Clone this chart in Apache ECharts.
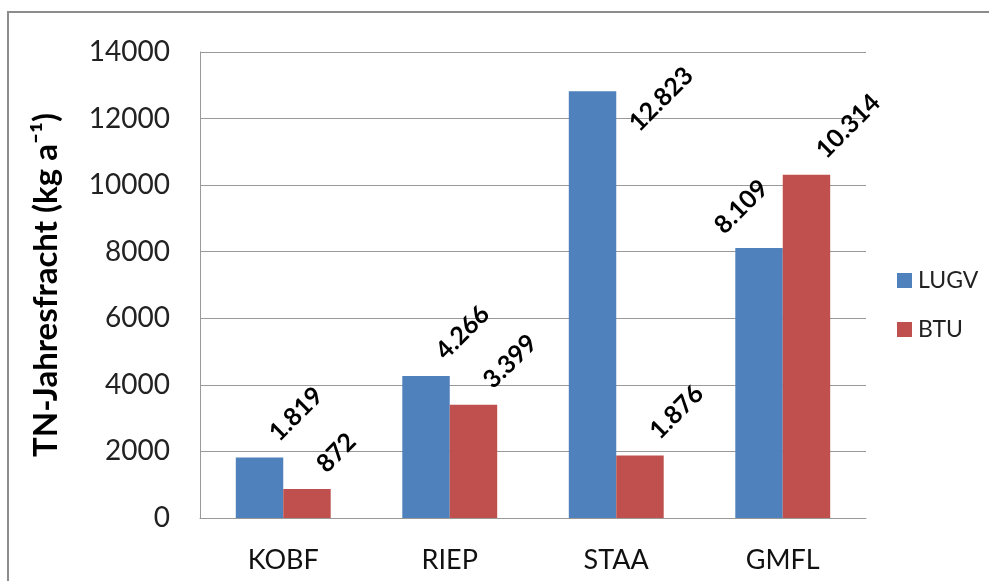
<!DOCTYPE html>
<html>
<head>
<meta charset="utf-8">
<script src="https://cdn.jsdelivr.net/npm/echarts@6/dist/echarts.min.js"></script>
<style>
  html, body { margin: 0; padding: 0; background: #fff; }
  #chart { width: 989px; height: 581px; }
</style>
</head>
<body>
<div id="chart"></div>
<script>
const categories = ["KOBF", "RIEP", "STAA", "GMFL"];
const lugv = [1819, 4266, 12823, 8109];
const btu = [872, 3399, 1876, 10314];

// deutsches Tausendertrennzeichen
function fmt(v) {
  return String(v).replace(/\B(?=(\d{3})+(?!\d))/g, ".");
}

const chart = echarts.init(document.getElementById("chart"));
const font = "Lato, 'Open Sans', sans-serif";

const barLabel = {
  show: true,
  position: "top",
  rotate: 45,
  align: "left",
  verticalAlign: "middle",
  distance: 8,
  offset: [19, 1],
  fontFamily: font,
  fontWeight: "bold",
  fontSize: 25,
  color: "#000",
  formatter: (p) => fmt(p.value),
};

// Excel schiebt einige Beschriftungen in die Zeichenfläche zurück
// (offset im gedrehten Koordinatensystem der Beschriftung)
const lugvLabelShift = { 2: [-2, 60], 3: [-21, -36] };

function withLabels(values, shift) {
  return values.map((v, i) =>
    shift[i] ? { value: v, label: { offset: shift[i] } } : v
  );
}

chart.setOption({
  animation: false,
  graphic: [
    {
      type: "rect",
      shape: { x: 8, y: 12, width: 1000, height: 600 },
      style: { fill: "none", stroke: "#8c8c8c", lineWidth: 2 },
    },
  ],
  grid: { left: 200, right: 123, top: 52, bottom: 63 },
  legend: {
    orient: "vertical",
    left: 892,
    top: 264,
    itemWidth: 15,
    itemHeight: 15,
    itemGap: 26,
    icon: "rect",
    textStyle: { fontFamily: font, fontSize: 23, color: "#222", padding: [0, 0, 0, 1] },
    data: ["LUGV", "BTU"],
  },
  xAxis: {
    type: "category",
    data: categories,
    axisLine: { lineStyle: { color: "#999" } },
    axisTick: { show: false },
    axisLabel: { fontFamily: font, fontSize: 27, color: "#111", margin: 29 },
  },
  yAxis: {
    type: "value",
    min: 0,
    max: 14000,
    interval: 2000,
    name: "TN-Jahresfracht (kg a⁻¹)",
    nameLocation: "middle",
    nameGap: 137,
    nameTextStyle: { fontFamily: font, fontSize: 33, fontWeight: "bold", color: "#000" },
    axisLine: { show: true, lineStyle: { color: "#999" } },
    axisTick: { show: false },
    splitLine: { lineStyle: { color: "#999" } },
    axisLabel: {
      fontFamily: font,
      fontSize: 28,
      color: "#222",
      margin: 30,
      formatter: (v) => String(v),
    },
  },
  series: [
    {
      name: "LUGV",
      type: "bar",
      data: withLabels(lugv, lugvLabelShift),
      barGap: "0%",
      barCategoryGap: "43%",
      itemStyle: { color: "#4f81bd" },
      label: barLabel,
    },
    {
      name: "BTU",
      type: "bar",
      data: btu,
      itemStyle: { color: "#c0504d" },
      label: barLabel,
    },
  ],
});
</script>
</body>
</html>
